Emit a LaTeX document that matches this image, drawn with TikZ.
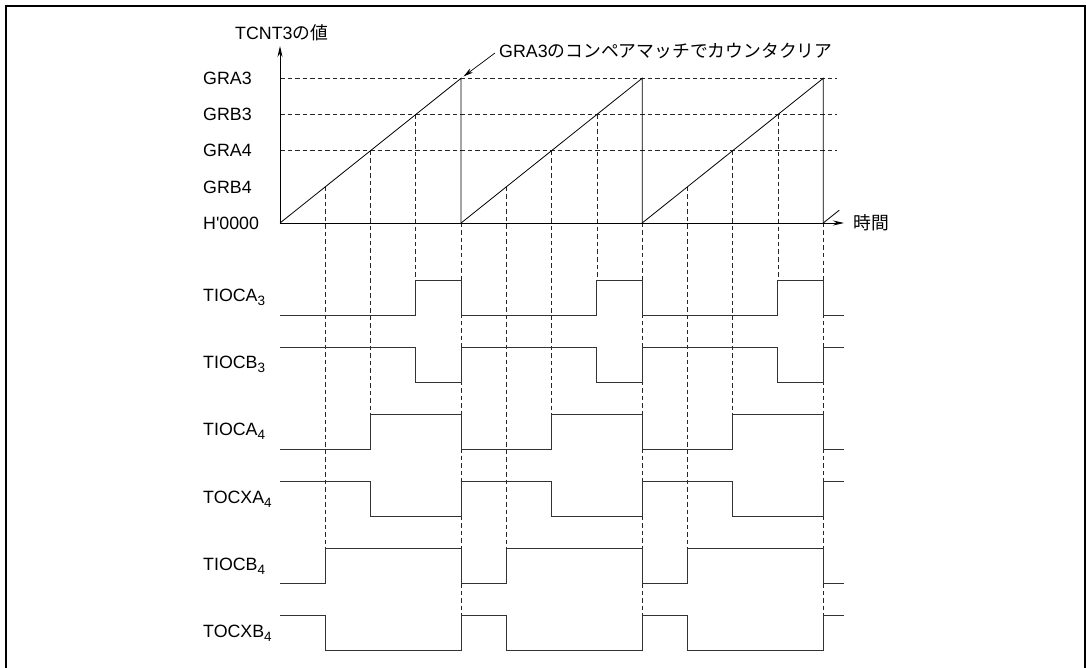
\documentclass[tikz,border=0pt]{standalone}
\usepackage{fontspec}
\setmainfont{Liberation Sans}
\newfontfamily\jp{Noto Sans CJK JP}
\usetikzlibrary{arrows.meta}
\newcommand{\xorig}{280}
\newcommand{\xstep}{45.27}
\newcommand{\subtxt}[1]{\raisebox{-4pt}{\fontsize{13.5}{13.5}\selectfont #1}}
\newcommand{\sigwave}[3]{%
  \draw[sig] (\xorig,#1) \foreach \p in {0,1,2}{
     -- ({\xorig+(4*\p+#3)*\xstep},#1) -- ({\xorig+(4*\p+#3)*\xstep},#2)
     -- ({\xorig+(4*\p+4)*\xstep},#2) -- ({\xorig+(4*\p+4)*\xstep},#1)} -- (844,#1);}
\begin{document}
\begin{tikzpicture}[x=1pt,y=-1pt,
  lbl/.style={font=\fontsize{17.8}{20}\selectfont, inner sep=0pt, anchor=west},
  gridline/.style={line width=0.7pt, dash pattern=on 4.5pt off 3pt, black!85},
  sig/.style={line width=1pt, black!80, line join=miter},
  ramp/.style={line width=0.8pt},
  axisarrow/.style={line width=0.9pt, -{Stealth[length=11pt,width=5pt]}},
  notearrow/.style={line width=0.7pt, -{Stealth[length=10pt,width=5pt]}}]
\useasboundingbox (0,0) rectangle (1086,668);
\draw[line width=2.2pt] (5.7,670) -- (5.7,5.7) -- (1085,5.7) -- (1085,670);

% levels
\def\yA{78.3}\def\yB{114.5}\def\yC{150.8}\def\yD{187}\def\yH{223}

% level labels
\node[lbl] (lgra3) at (203,\yA) {GRA3};
\node[lbl] (lgrb3) at (203,\yB) {GRB3};
\node[lbl] (lgra4) at (203,\yC) {GRA4};
\node[lbl] (lgrb4) at (203,\yD) {GRB4};
\node[lbl] (lzero) at (203,\yH) {H\textquotesingle 0000};
\node[lbl] (lval) at (235,32.7) {TCNT3{\jp の値}};
\node[lbl] (ltime) at (853,\yH) {\jp 時間};
\node[lbl] (note) at (499,50.7) {GRA3{\jp のコンペアマッチでカウンタクリア}};

% horizontal dashed levels
\foreach \yy in {\yA,\yB,\yC} \draw[gridline] (\xorig,\yy) -- (837,\yy);

% vertical dashed lines
\foreach \p in {0,1,2}{
  \draw[gridline] ({\xorig+(4*\p+1)*\xstep},\yD) -- ({\xorig+(4*\p+1)*\xstep},548.7);
  \draw[gridline] ({\xorig+(4*\p+2)*\xstep},\yC) -- ({\xorig+(4*\p+2)*\xstep},414.3);
  \draw[gridline] ({\xorig+(4*\p+3)*\xstep},\yB) -- ({\xorig+(4*\p+3)*\xstep},280);
  \draw[gridline] ({\xorig+(4*\p+4)*\xstep},\yH) -- ({\xorig+(4*\p+4)*\xstep},615.7);
}

% ramps
\foreach \p in {0,1,2}{
  \draw[ramp] ({\xorig+4*\p*\xstep},\yH) -- ({\xorig+(4*\p+4)*\xstep},\yA) -- ({\xorig+(4*\p+4)*\xstep},\yH);
}
\draw[ramp] ({\xorig+12*\xstep},\yH) -- ({\xorig+12*\xstep+16},{\yH-12.8});

% axes
\coordinate (origin) at (\xorig,\yH);
\coordinate (ytip) at (\xorig,46);
\coordinate (xtip) at (844,\yH);
\draw[axisarrow] (origin) -- (ytip);
\draw[axisarrow] (origin) -- (xtip);

% note arrow
\coordinate (nstart) at (495,53);
\coordinate (ntip) at (463.5,76.5);
\draw[notearrow] (nstart) -- (ntip);

% signals
\node[lbl] (s0) at (203,297.5) {TIOCA\subtxt{3}};
\node[lbl] (s1) at (203,364.6) {TIOCB\subtxt{3}};
\node[lbl] (s2) at (203,431.7) {TIOCA\subtxt{4}};
\node[lbl] (s3) at (203,498.8) {TOCXA\subtxt{4}};
\node[lbl] (s4) at (203,565.9) {TIOCB\subtxt{4}};
\node[lbl] (s5) at (203,633.0) {TOCXB\subtxt{4}};

\sigwave{315}{280}{3}
\sigwave{347.1}{382.1}{3}
\sigwave{449.2}{414.2}{2}
\sigwave{481.3}{516.3}{2}
\sigwave{583.4}{548.4}{1}
\sigwave{615.5}{650.5}{1}
\end{tikzpicture}
\end{document}
